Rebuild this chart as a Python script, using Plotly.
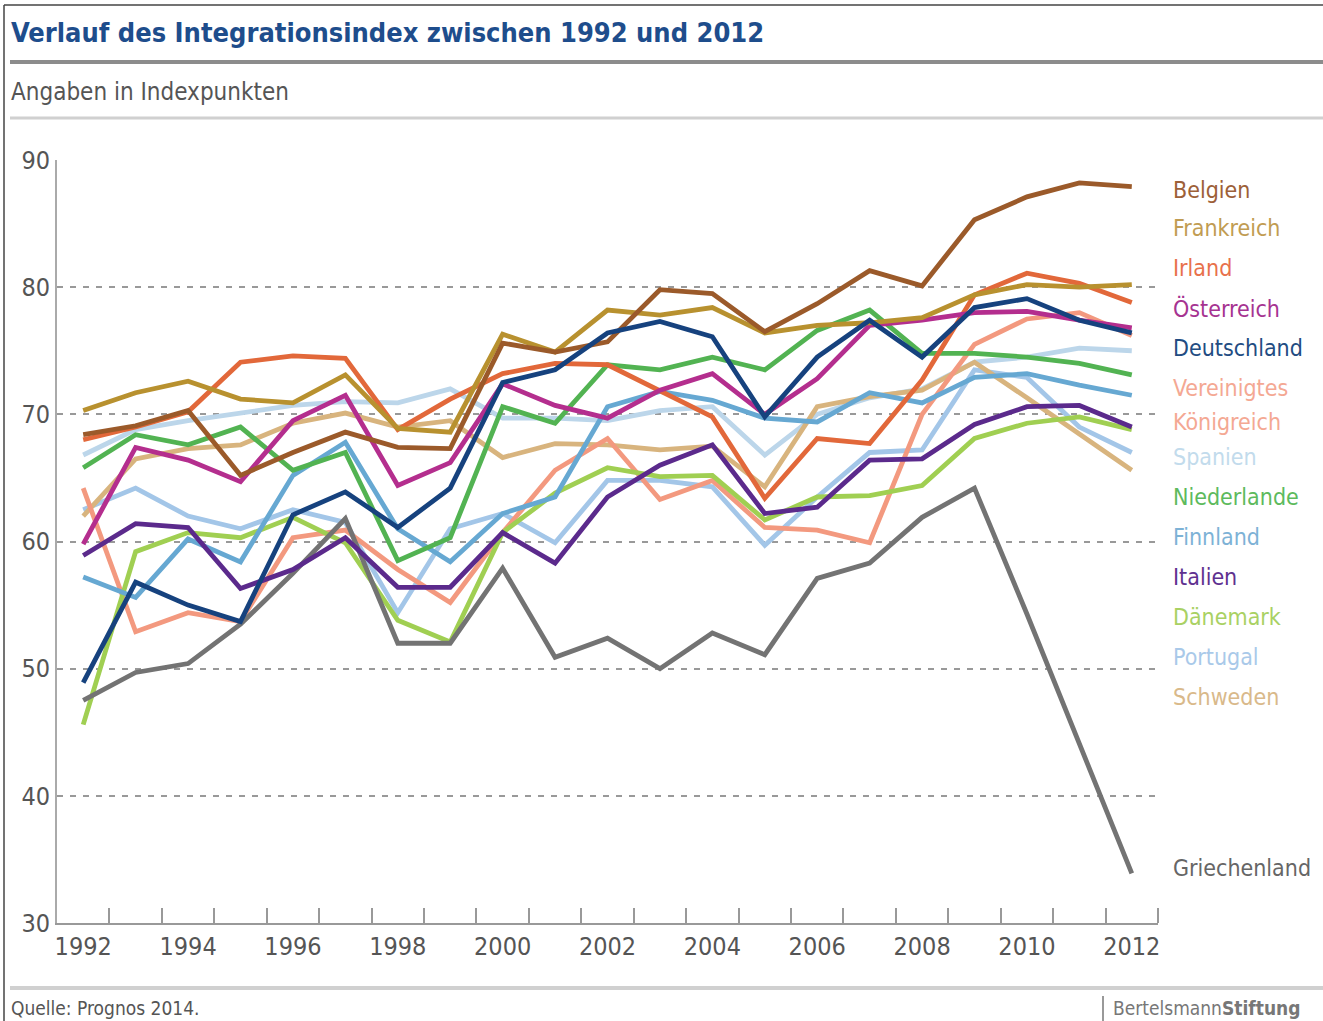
import plotly.graph_objects as go

# ---------------- data ----------------
years = list(range(1992, 2013))
year_labels = [str(y) for y in range(1992, 2013, 2)]
y_ticks = [30, 40, 50, 60, 70, 80, 90]

belgien = [68.4, 69.1, 70.3, 65.2, 67.0, 68.6, 67.4, 67.3, 75.6, 74.9, 75.7, 79.8, 79.5, 76.5, 78.7, 81.3, 80.1, 85.3, 87.1, 88.2, 87.9]
frankreich = [70.3, 71.7, 72.6, 71.2, 70.9, 73.1, 68.9, 68.6, 76.3, 74.9, 78.2, 77.8, 78.4, 76.4, 77.0, 77.2, 77.6, 79.4, 80.2, 80.0, 80.2]
irland = [68.0, 69.0, 70.2, 74.1, 74.6, 74.4, 68.8, 71.2, 73.2, 74.0, 73.9, 71.9, 69.8, 63.4, 68.1, 67.7, 72.7, 79.4, 81.1, 80.3, 78.8]
oesterreich = [59.8, 67.4, 66.4, 64.7, 69.5, 71.5, 64.4, 66.2, 72.4, 70.7, 69.7, 71.9, 73.2, 70.0, 72.8, 77.0, 77.4, 78.0, 78.1, 77.4, 76.8]
deutschland = [48.9, 56.8, 55.0, 53.7, 62.1, 63.9, 61.1, 64.2, 72.5, 73.5, 76.4, 77.3, 76.1, 69.8, 74.5, 77.4, 74.5, 78.4, 79.1, 77.4, 76.4]
vk = [64.2, 52.9, 54.4, 53.7, 60.3, 60.9, 57.8, 55.2, 60.7, 65.6, 68.1, 63.3, 64.8, 61.1, 60.9, 59.9, 70.0, 75.5, 77.5, 78.0, 76.2]
spanien = [66.8, 68.8, 69.5, 70.1, 70.7, 71.0, 70.9, 72.0, 69.7, 69.7, 69.5, 70.3, 70.6, 66.8, 70.0, 71.3, 72.0, 74.1, 74.5, 75.2, 75.0]
niederlande = [65.8, 68.4, 67.6, 69.0, 65.6, 67.0, 58.5, 60.3, 70.6, 69.3, 73.9, 73.5, 74.5, 73.5, 76.6, 78.2, 74.8, 74.8, 74.5, 74.0, 73.1]
finnland = [57.2, 55.6, 60.2, 58.4, 65.2, 67.8, 61.0, 58.4, 62.2, 63.5, 70.6, 71.8, 71.1, 69.7, 69.4, 71.7, 70.9, 72.9, 73.2, 72.3, 71.5]
italien = [58.9, 61.4, 61.1, 56.3, 57.8, 60.3, 56.4, 56.4, 60.7, 58.3, 63.5, 66.0, 67.6, 62.2, 62.7, 66.4, 66.5, 69.2, 70.6, 70.7, 69.0]
daenemark = [45.6, 59.2, 60.7, 60.3, 61.9, 59.9, 53.8, 52.1, 60.7, 63.8, 65.8, 65.1, 65.2, 61.7, 63.5, 63.6, 64.4, 68.1, 69.3, 69.8, 68.8]
portugal = [62.5, 64.2, 62.0, 61.0, 62.5, 61.5, 54.4, 61.0, 62.2, 59.9, 64.8, 64.8, 64.3, 59.7, 63.5, 67.0, 67.2, 73.5, 72.9, 69.0, 67.0]
schweden = [62.0, 66.5, 67.3, 67.6, 69.3, 70.1, 69.0, 69.5, 66.6, 67.7, 67.6, 67.2, 67.5, 64.3, 70.6, 71.4, 71.9, 74.1, 71.3, 68.5, 65.6]
griechenland = [47.5, 49.7, 50.4, 53.5, 57.5, 61.8, 52.0, 52.0, 57.9, 50.9, 52.4, 50.0, 52.8, 51.1, 57.1, 58.3, 61.9, 64.2, 54.3, 44.1, 33.9]

# name, values, line colour, label colour  (drawing order: light first)
series = [
    ("Spanien", spanien, "#bcd6ea", "#c2dbec"),
    ("Portugal", portugal, "#a3c6e8", "#a9c9e9"),
    ("Schweden", schweden, "#d8b47e", "#d9b98a"),
    ("Vereinigtes Königreich", vk, "#f3997f", "#f4a893"),
    ("Dänemark", daenemark, "#a0cf52", "#a9d163"),
    ("Finnland", finnland, "#66a8d2", "#7db2d6"),
    ("Niederlande", niederlande, "#52b352", "#5dba5d"),
    ("Griechenland", griechenland, "#737373", "#666666"),
    ("Irland", irland, "#e2683a", "#e8714b"),
    ("Italien", italien, "#5b2a8c", "#5f3190"),
    ("Österreich", oesterreich, "#b42e8e", "#a63391"),
    ("Frankreich", frankreich, "#b8912f", "#c19c52"),
    ("Belgien", belgien, "#9b5a2a", "#9d6038"),
    ("Deutschland", deutschland, "#16427e", "#224c82"),
]

# label text and pixel row for the right-hand list
labels = [
    ("Belgien", 190), ("Frankreich", 228), ("Irland", 268), ("Österreich", 308),
    ("Deutschland", 348), ("Vereinigtes", 388), ("Königreich", 422), ("Spanien", 457),
    ("Niederlande", 497), ("Finnland", 537), ("Italien", 577), ("Dänemark", 617),
    ("Portugal", 657), ("Schweden", 697), ("Griechenland", 868),
]
label_series = {"Vereinigtes": "Vereinigtes Königreich", "Königreich": "Vereinigtes Königreich"}

# ---------------- layout geometry ----------------
W, H = 1323, 1021
L, R, T, B = 57, 165, 160, 98
PW, PH = W - L - R, H - T - B
FONT = "DejaVu Sans Condensed, Liberation Sans Narrow, sans-serif"


def px_x(px):
    return (px - L) / PW


def px_y(py):
    return (H - B - py) / PH


fig = go.Figure()
for name, vals, col, _ in series:
    fig.add_trace(go.Scatter(
        x=years, y=vals, mode="lines", name=name,
        line=dict(color=col, width=4.8), showlegend=False, hoverinfo="skip",
    ))

colour_of = {n: lc for n, _, _, lc in series}
annotations = []
for txt, py in labels:
    annotations.append(dict(
        x=px_x(1171), y=px_y(py), xref="paper", yref="paper", xanchor="left", yanchor="middle",
        text=txt, showarrow=False,
        font=dict(family=FONT, size=23, color=colour_of[label_series.get(txt, txt)]),
    ))

annotations += [
    dict(x=px_x(9), y=px_y(32), xref="paper", yref="paper", xanchor="left", yanchor="middle",
         text="<b>Verlauf des Integrationsindex zwischen 1992 und 2012</b>", showarrow=False,
         font=dict(family=FONT, size=27, color="#1e4d8c")),
    dict(x=px_x(9), y=px_y(92), xref="paper", yref="paper", xanchor="left", yanchor="middle",
         text="Angaben in Indexpunkten", showarrow=False,
         font=dict(family=FONT, size=24, color="#555555")),
    dict(x=px_x(9), y=px_y(1008), xref="paper", yref="paper", xanchor="left", yanchor="middle",
         text="Quelle: Prognos 2014.", showarrow=False,
         font=dict(family=FONT, size=19, color="#555555")),
    dict(x=px_x(1111), y=px_y(1008), xref="paper", yref="paper", xanchor="left", yanchor="middle",
         text="Bertelsmann<b>Stiftung</b>", showarrow=False,
         font=dict(family=FONT, size=19, color="#777777")),
]


def hline(py, x0, x1, color, width):
    return dict(type="line", xref="paper", yref="paper", x0=px_x(x0), x1=px_x(x1),
                y0=px_y(py), y1=px_y(py), line=dict(color=color, width=width))


def vline(px, y0, y1, color, width):
    return dict(type="line", xref="paper", yref="paper", x0=px_x(px), x1=px_x(px),
                y0=px_y(y0), y1=px_y(y1), line=dict(color=color, width=width))


shapes = [
    hline(5, 4, W, "#444444", 1.5),
    vline(4, 5, H, "#444444", 1.5),
    hline(62, 10, W, "#8c8c8c", 4),
    hline(118, 10, W, "#d0d0d0", 3),
    hline(988, 10, W, "#d0d0d0", 4),
    vline(1103, 996, H, "#999999", 2),
]

fig.update_layout(
    width=W, height=H,
    margin=dict(l=L, r=R, t=T, b=B),
    paper_bgcolor="white", plot_bgcolor="white",
    font=dict(family=FONT, color="#555555"),
    annotations=annotations, shapes=shapes,
    xaxis=dict(
        range=[1991.5, 2012.5], tickmode="array",
        tickvals=[int(t) for t in year_labels], ticktext=year_labels,
        ticks="", showgrid=False, zeroline=False,
        showline=True, linecolor="#999999", linewidth=2,
        tickfont=dict(family=FONT, size=25, color="#555555"),
        minor=dict(tickvals=[y + 0.5 for y in years], ticks="inside", ticklen=15,
                   tickwidth=2, tickcolor="#999999", showgrid=False),
    ),
    yaxis=dict(
        range=[30, 90], tickmode="array", tickvals=y_ticks,
        ticks="", showgrid=True, gridcolor="#999999", gridwidth=2.4, griddash="6px,7px",
        zeroline=False, showline=True, linecolor="#aaaaaa", linewidth=2,
        tickfont=dict(family=FONT, size=25, color="#555555"),
    ),
)

fig.write_html(
    "out.html",
    config={"displayModeBar": False},
    post_script="document.body.style.margin='0px';document.body.style.overflow='hidden';",
)
